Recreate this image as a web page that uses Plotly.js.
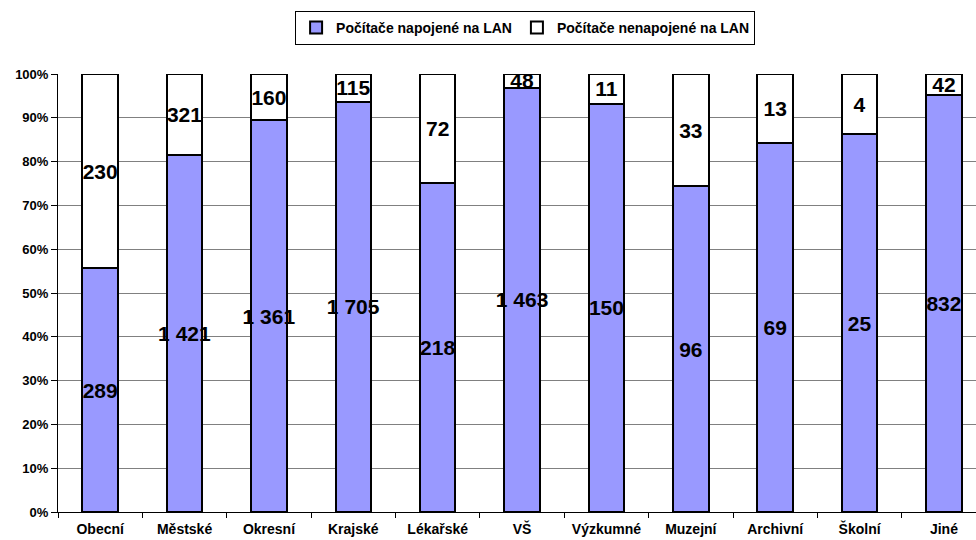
<!DOCTYPE html>
<html><head><meta charset="utf-8">
<script src="https://cdn.plot.ly/plotly-3.0.1.min.js"></script>
<style>html,body{margin:0;padding:0;background:#fff}#c{width:976px;height:540px}</style>
</head><body><div id="c"></div>
<script>
const categories = ["Obecní","Městské","Okresní","Krajské","Lékařské","VŠ","Výzkumné","Muzejní","Archivní","Školní","Jiné"];
const connected = [289,1421,1361,1705,218,1463,150,96,69,25,832];
const notConnected = [230,321,160,115,72,48,11,33,13,4,42];
const seriesNames = ["Počítače napojené na LAN","Počítače nenapojené na LAN"];

function fmt(v){return String(v).replace(/\B(?=(\d{3})+(?!\d))/g,"\u00a0");}
const F = "Arial, 'Liberation Sans', sans-serif";
const common = {type:'bar', textposition:'inside', insidetextanchor:'middle', textangle:0,
  constraintext:'none', cliponaxis:false, hoverinfo:'skip',
  insidetextfont:{family:F,size:21,color:'#000',weight:'bold'}};
const traces = [
  Object.assign({}, common, {x:categories, y:connected, name:seriesNames[0], text:connected.map(fmt),
    marker:{color:'#9999FF', line:{color:'#000', width:2}}}),
  Object.assign({}, common, {x:categories, y:notConnected, name:seriesNames[1], text:notConnected.map(fmt),
    marker:{color:'#FFFFFF', line:{color:'#000', width:2}}})
];
const layout = {
  width:976, height:540, margin:{l:58, r:0, t:74, b:28},
  paper_bgcolor:'#fff', plot_bgcolor:'#fff',
  barmode:'stack', barnorm:'percent', bargap:0.58,
  font:{family:F, color:'#000'},
  showlegend:true,
  legend:{orientation:'h', x:0.538, xanchor:'center', xref:'container', y:0.98, yref:'container', yanchor:'top',
    font:{family:F, size:14, weight:'bold'}, bordercolor:'#000', borderwidth:1, bgcolor:'#fff',
    itemwidth:30, traceorder:'normal', tracegroupgap:0},
  xaxis:{type:'category', range:[-0.5, 10.38], showgrid:false, showline:true, linecolor:'#000', linewidth:1,
    ticks:'outside', tickson:'boundaries', ticklen:5, tickcolor:'#000', tickwidth:1, ticklabelstandoff:4,
    tickfont:{family:F, size:14, weight:'bold'}, zeroline:false},
  yaxis:{range:[0,100.0005], tick0:0, dtick:10, ticksuffix:'%', showgrid:true, gridcolor:'#808080', gridwidth:1,
    showline:true, linecolor:'#000', linewidth:1, ticks:'outside', ticklen:6, tickcolor:'#000',
    tickfont:{family:F, size:13, weight:'bold'}, zeroline:false, fixedrange:true}
};
Plotly.newPlot('c', traces, layout, {displayModeBar:false, staticPlot:true});
</script></body></html>
